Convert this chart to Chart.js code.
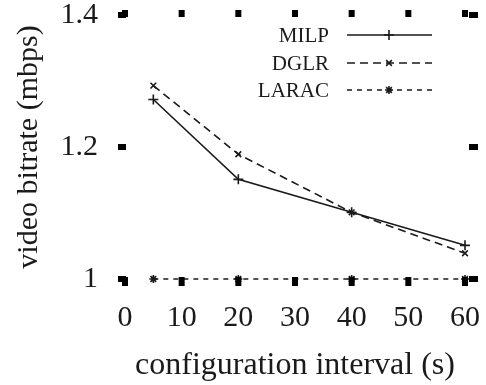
<!DOCTYPE html>
<html>
<head>
<meta charset="utf-8">
<script src="https://cdn.jsdelivr.net/npm/chart.js@4/dist/chart.umd.min.js"></script>
<style>
html,body{margin:0;padding:0;background:#fff;}
#wrap{width:486px;height:385px;}
</style>
</head>
<body>
<div id="wrap"><canvas id="c" width="486" height="385"></canvas></div>
<script>
// ---- data ----
const intervals = [5, 20, 40, 60];
const milp  = [1.272, 1.151, 1.101, 1.051];
const dglr  = [1.293, 1.189, 1.101, 1.039];
const larac = [1.0, 1.0, 1.0, 1.0];
const xTickValues = [0, 10, 20, 30, 40, 50, 60];
const yTickValues = [1, 1.2, 1.4];
const yTickLabels = ['1', '1.2', '1.4'];
const seriesNames = ['MILP', 'DGLR', 'LARAC'];
const xTitle = 'configuration interval (s)';
const yTitle = 'video bitrate (mbps)';

const FONT = "'Liberation Serif', 'DejaVu Serif', serif";
const INK = '#1a1a1a';

function pts(vals){ return intervals.map((x,i)=>({x:x, y:vals[i]})); }

const tickSquares = {
  id: 'tickSquares',
  afterDraw(chart){
    const ctx = chart.ctx, a = chart.chartArea;
    const xs = chart.scales.x, ys = chart.scales.y;
    ctx.save();
    ctx.fillStyle = '#000';
    xTickValues.forEach(v=>{
      const px = xs.getPixelForValue(v);
      ctx.fillRect(px-3, a.top-5, 6, 7);
      ctx.fillRect(px-3, a.bottom-2, 6, 9);
    });
    yTickValues.forEach(v=>{
      const py = ys.getPixelForValue(v);
      ctx.fillRect(a.left-7, py-3, 8, 6);
      ctx.fillRect(a.right+4, py-3, 9, 6);
    });
    ctx.restore();
  }
};

const customLegend = {
  id: 'customLegend',
  afterDraw(chart){
    const ctx = chart.ctx;
    const rows = [35, 63, 90];
    ctx.save();
    chart.data.datasets.forEach((ds,i)=>{
      const y = rows[i];
      ctx.font = "21px " + FONT;
      ctx.fillStyle = INK;
      ctx.textAlign = 'right';
      ctx.textBaseline = 'middle';
      ctx.fillText(ds.label, 329, y+1);
      ctx.strokeStyle = ds.borderColor;
      ctx.lineWidth = ds.borderWidth;
      ctx.setLineDash(ds.borderDash || []);
      ctx.beginPath();
      ctx.moveTo(347, y); ctx.lineTo(432, y);
      ctx.stroke();
      ctx.setLineDash([]);
      Chart.helpers.drawPoint(ctx, {pointStyle: ds.pointStyle, radius: ds.pointRadius, rotation: 0, borderWidth: ds.pointBorderWidth}, 389, y);
    });
    ctx.restore();
  }
};

new Chart(document.getElementById('c'), {
  type: 'line',
  data: {
    datasets: [
      {label: seriesNames[0], data: pts(milp), borderColor: INK, backgroundColor: INK, borderWidth: 1.6,
       pointStyle: 'cross', pointRadius: 5, pointBorderWidth: 1.6, pointBorderColor: INK, tension: 0, clip: false},
      {label: seriesNames[1], data: pts(dglr), borderColor: INK, backgroundColor: INK, borderWidth: 1.6, borderDash: [8,5],
       pointStyle: 'crossRot', pointRadius: 4, pointBorderWidth: 1.6, pointBorderColor: INK, tension: 0, clip: false},
      {label: seriesNames[2], data: pts(larac), borderColor: INK, backgroundColor: INK, borderWidth: 1.6, borderDash: [5,5],
       pointStyle: 'star', pointRadius: 4, pointBorderWidth: 1.6, pointBorderColor: INK, tension: 0, clip: false}
    ]
  },
  options: {
    responsive: false,
    animation: false,
    layout: {padding: {top: 15, right: 21, left: 0, bottom: 0}},
    plugins: {legend: {display: false}, tooltip: {enabled: false}},
    scales: {
      x: {
        type: 'linear', min: 0, max: 60,
        afterBuildTicks: s => { s.ticks = xTickValues.map(v=>({value:v})); },
        afterFit: s => { s.height = 106; s.paddingLeft = 0; s.paddingRight = 0; },
        grid: {display: false, drawTicks: false},
        border: {display: false},
        ticks: {color: INK, font: {family: FONT, size: 30}, padding: 21, maxRotation: 0, autoSkip: false},
        title: {display: true, text: xTitle, color: INK, font: {family: FONT, size: 32}, padding: {top: 0, bottom: 0}}
      },
      y: {
        type: 'linear', min: 1, max: 1.4,
        afterBuildTicks: s => { s.ticks = yTickValues.map(v=>({value:v})); },
        afterFit: s => { s.width = 125; s.paddingTop = 0; s.paddingBottom = 0; },
        grid: {display: false, drawTicks: false},
        border: {display: false},
        ticks: {color: INK, font: {family: FONT, size: 30}, padding: 27,
                callback: (v) => { const i = yTickValues.findIndex(t=>Math.abs(t-v)<1e-9); return i>=0 ? yTickLabels[i] : ''; }},
        title: {display: true, text: yTitle, color: INK, font: {family: FONT, size: 30}, padding: {top: 11, bottom: 0}}
      }
    }
  },
  plugins: [tickSquares, customLegend]
});
</script>
</body>
</html>
